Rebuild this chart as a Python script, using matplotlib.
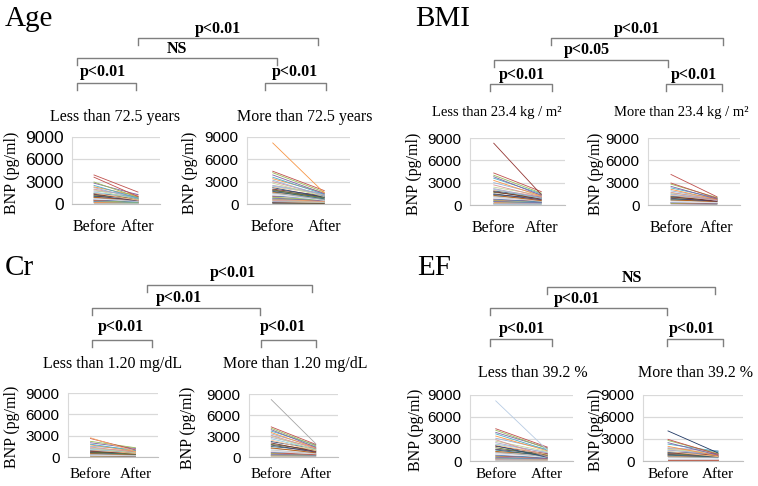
import matplotlib
matplotlib.use('Agg')
import matplotlib.pyplot as plt
from matplotlib.lines import Line2D

# BNP before / after (pg/ml)
age_lo_before = [3900, 3600, 2950, 2800, 2500, 2300, 2200, 2000, 1900, 1750, 1600, 1500, 1400, 1300, 1200, 1100,
                 1000, 900, 850, 800, 700, 650, 600, 500, 450, 400, 350, 300, 250, 200, 150, 120]
age_lo_after = [1600, 1000, 900, 1250, 800, 1100, 700, 950, 600, 1300, 850, 500, 1000, 650, 750, 450,
                900, 550, 400, 700, 350, 500, 300, 450, 250, 350, 200, 300, 150, 250, 100, 120]

age_hi_before = [8200, 4400, 4200, 3900, 3600, 3400, 3200, 3000, 2800, 2500, 2400, 2300, 2200, 2000, 1900, 1800,
                 1700, 1600, 1500, 1400, 1300, 1200, 1100, 1000, 900, 800, 700, 650, 600, 500, 450, 400,
                 350, 300, 250, 200, 150, 100]
age_hi_after = [1500, 1800, 1600, 1400, 1300, 1500, 1100, 1200, 1000, 1400, 1350, 1300, 900, 1100, 800, 1000,
                700, 950, 600, 850, 500, 750, 650, 900, 550, 450, 600, 400, 500, 350, 300, 400,
                250, 200, 300, 150, 100, 80]

bmi_lo_before = [8300, 4300, 4000, 3800, 3600, 3300, 3000, 2700, 2400, 2200, 2100, 2000, 1900, 1800, 1700, 1500,
                 1400, 1300, 1200, 1100, 1000, 900, 800, 700, 600, 500, 450, 400, 300, 250, 200, 150, 100]
bmi_lo_after = [1400, 1800, 1600, 1300, 1500, 1200, 1400, 1100, 1300, 1000, 900, 1200, 1100, 800, 1000, 700,
                900, 600, 800, 500, 700, 650, 400, 550, 450, 350, 300, 400, 250, 200, 150, 120, 80]

bmi_hi_before = [4100, 2950, 2800, 2500, 2300, 2100, 1900, 1700, 1600, 1500, 1400, 1300, 1200, 1100, 1000, 900,
                 800, 700, 650, 600, 500, 400, 350, 300, 200, 150]
bmi_hi_after = [1100, 900, 1000, 800, 950, 750, 850, 700, 1000, 600, 900, 650, 800, 550, 700, 500,
                600, 450, 550, 400, 350, 300, 250, 200, 150, 100]

cr_lo_before = [2700, 2600, 2200, 2000, 1800, 1700, 1500, 1400, 1300, 1200, 1100, 1000, 900, 800, 700, 650,
                600, 500, 400, 350, 300, 250, 200, 150, 100]
cr_lo_after = [750, 1000, 1300, 1200, 900, 800, 1100, 700, 600, 850, 650, 500, 750, 550, 450, 600,
               400, 350, 300, 250, 200, 180, 150, 120, 80]

cr_hi_before = [8200, 4300, 4100, 3900, 3700, 3500, 3300, 3100, 3000, 2800, 2600, 2400, 2200, 2000, 1800, 1700,
                1500, 1300, 1200, 1000, 900, 800, 700, 600, 500, 400, 300, 250, 200, 150, 100]
cr_hi_after = [1900, 1800, 1600, 1400, 1700, 1300, 1500, 1200, 1000, 1400, 1100, 900, 1200, 800, 1000, 700,
               900, 600, 800, 500, 650, 450, 550, 350, 400, 300, 250, 200, 150, 120, 80]

ef_lo_before = [8200, 4400, 4200, 3900, 3700, 3400, 3100, 2900, 2700, 2500, 2300, 2200, 2100, 2000, 1800, 1600,
                1500, 1300, 1200, 1100, 1000, 900, 800, 700, 600, 500, 400, 350, 300, 200, 150, 100]
ef_lo_after = [1500, 1900, 1700, 1800, 1500, 1400, 1600, 600, 1300, 1100, 1200, 900, 500, 1000, 800, 950,
               700, 850, 600, 750, 500, 650, 450, 400, 550, 350, 300, 250, 200, 150, 120, 80]

ef_hi_before = [4100, 2950, 2800, 2500, 2300, 2000, 1800, 1700, 1600, 1500, 1400, 1300, 1200, 1100, 1000, 900,
                800, 700, 600, 500, 400, 300, 250, 200, 150]
ef_hi_after = [1100, 900, 1000, 800, 1300, 700, 1400, 1350, 1100, 900, 1250, 600, 1000, 800, 700, 650,
               550, 600, 450, 500, 350, 300, 250, 200, 150]

x_labels = ['Before', 'After']
y_ticks = [0, 3000, 6000, 9000]

# office 2007 style line colours, with the lighter tints mixed in
palette = ['#4F81BD', '#C0504D', '#9BBB59', '#8064A2', '#4BACC6', '#F79646',
           '#95B3D7', '#D99694', '#C3D69B', '#B3A2C7', '#93CDDD', '#FAC090',
           '#2C4D75', '#772C2A', '#5F7530', '#4D3B62', '#276A7C', '#B65708',
           '#A5A5A5', '#C9C9C9', '#DCE6F2', '#F2DCDB']

W, H = 758, 486
SERIF = 'Liberation Serif'
SANS = 'Liberation Sans'

fig = plt.figure(figsize=(W / 100, H / 100), dpi=100)


def fx(x):
    return x / W


def fy(y):
    return 1 - y / H


def txt(x, y, s, size, bold=False, family=SERIF, ha='center', va='baseline', rot=0):
    fig.text(fx(x), fy(y), s, fontsize=size, family=family, ha=ha, va=va, rotation=rot,
             fontweight='bold' if bold else 'normal')


def bracket(x0, x1, y, label, tx, ty, h=7):
    fig.add_artist(Line2D([fx(x0), fx(x0), fx(x1), fx(x1)], [fy(y + h), fy(y), fy(y), fy(y + h)],
                          transform=fig.transFigure, color='#7f7f7f', lw=1.0))
    txt(tx, ty, label, 11.5, bold=True)


def panel(before, after, box, title, title_xy, ylab_x, top_color, tick_fs=11, title_fs=11.5, xpad=11, xfs=11.5):
    x0, x1, yt, yb = box
    ax = fig.add_axes([fx(x0), fy(yb), fx(x1 - x0), (yb - yt) / H])
    n = len(before)
    for i in range(n - 1, -1, -1):
        c = top_color if i == 0 else palette[i % len(palette)]
        ax.plot([0, 1], [before[i], after[i]], color=c, lw=0.6)
    ax.set_xlim(-0.5, 1.5)
    ax.set_ylim(0, 9000)
    ax.set_yticks(y_ticks)
    ax.set_xticks([0, 1])
    ax.set_xticklabels(x_labels, family=SERIF, fontsize=xfs)
    for lab in ax.get_yticklabels():
        lab.set_family(SANS)
        lab.set_fontsize(tick_fs)
    ax.tick_params(length=0)
    ax.tick_params(axis='x', pad=xpad)
    ax.tick_params(axis='y', pad=6)
    ax.grid(axis='y', color='#d9d9d9', lw=0.9)
    ax.set_axisbelow(True)
    for s in ['top', 'right']:
        ax.spines[s].set_visible(False)
    ax.spines['left'].set_color('#d9d9d9')
    ax.spines['bottom'].set_color('#bfbfbf')
    ax.patch.set_alpha(0)
    txt(title_xy[0], title_xy[1], title, title_fs)
    txt(ylab_x, (yt + yb) / 2 + 2, 'BNP (pg/ml)', 11.5, va='center', rot=90)
    return ax


# Age
txt(5, 26, 'Age', 21, ha='left')
bracket(138, 318, 38, 'p<0.01', 218, 33)
bracket(77, 277, 58, 'NS', 177, 53)
bracket(77, 136, 83, 'p<0.01', 103, 76)
bracket(265, 326, 83, 'p<0.01', 295, 76)
panel(age_lo_before, age_lo_after, (72, 160, 137, 204), 'Less than 72.5 years', (115, 121), 12, '#C0504D', tick_fs=12.5)
panel(age_hi_before, age_hi_after, (247, 350, 137, 204), 'More than 72.5 years', (305, 121), 190, '#F79646')

# BMI
txt(415, 26, 'BMI', 21, ha='left')
bracket(551, 723, 38, 'p<0.01', 637, 33)
bracket(494, 668, 60, 'p<0.05', 587, 54)
bracket(490, 552, 84, 'p<0.01', 522, 79)
bracket(666, 722, 84, 'p<0.01', 694, 79)
panel(bmi_lo_before, bmi_lo_after, (470, 565, 138, 205), 'Less than 23.4 kg / m²', (497, 116), 414, '#943634', title_fs=10.5)
panel(bmi_hi_before, bmi_hi_after, (648, 740, 138, 205), 'More than 23.4 kg / m²', (681, 116), 596, '#C0504D', title_fs=10.5)

# Cr
txt(5, 275, 'Cr', 21, ha='left')
bracket(147, 312, 285, 'p<0.01', 233, 277)
bracket(92, 260, 308, 'p<0.01', 179, 302)
bracket(92, 152, 340, 'p<0.01', 121, 331)
bracket(261, 316, 340, 'p<0.01', 283, 331)
panel(cr_lo_before, cr_lo_after, (68, 158, 393, 457), 'Less than 1.20 mg/dL', (113, 368), 12, '#F9AB6B', xpad=8, xfs=11)
panel(cr_hi_before, cr_hi_after, (249, 338, 394, 457), 'More than 1.20 mg/dL', (295, 368), 188, '#A5A5A5', xpad=8, xfs=11)

# EF
txt(417, 275, 'EF', 21, ha='left')
bracket(547, 715, 287, 'NS', 632, 282)
bracket(490, 667, 308, 'p<0.01', 577, 303)
bracket(490, 552, 339, 'p<0.01', 522, 333)
bracket(667, 723, 339, 'p<0.01', 692, 333)
panel(ef_lo_before, ef_lo_after, (470, 573, 395, 461), 'Less than 39.2 %', (533, 377), 416, '#B8CCE4', xpad=5, xfs=11)
panel(ef_hi_before, ef_hi_after, (643, 743, 395, 461), 'More than 39.2 %', (695, 377), 596, '#1F3864', xpad=5, xfs=11)

fig.savefig('out.png', dpi=100)
